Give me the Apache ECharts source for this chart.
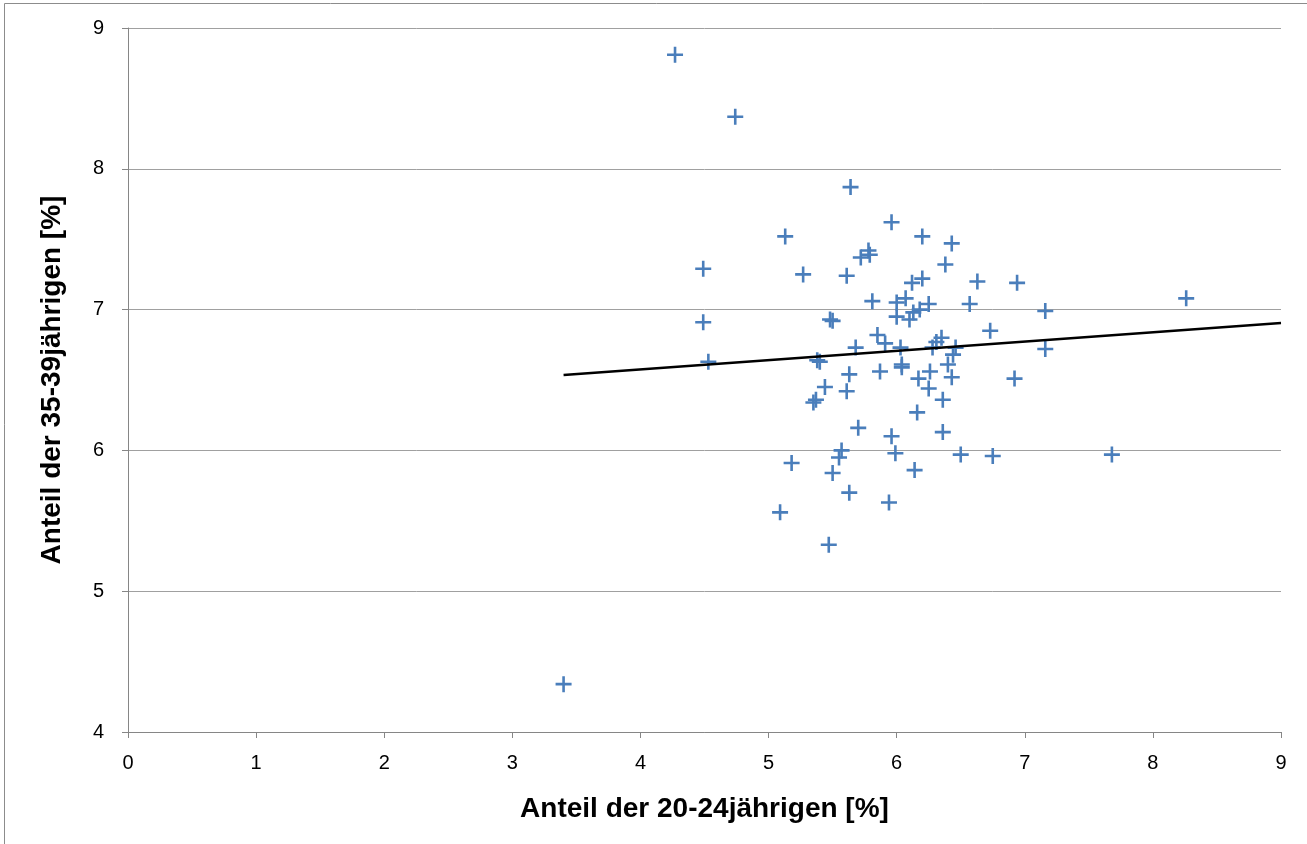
<!DOCTYPE html>
<html>
<head>
<meta charset="utf-8">
<script src="https://cdn.jsdelivr.net/npm/echarts@6/dist/echarts.min.js"></script>
<style>
html,body{margin:0;padding:0;background:#fff;}
#chart{width:1307px;height:844px;}
</style>
</head>
<body>
<div id="chart"></div>
<script>
// Anteil der 20-24jährigen [%]
var xValues = [4.27,4.74,5.64,5.96,5.13,6.20,6.43,5.78,5.79,5.72,4.49,6.38,5.27,5.61,6.20,6.12,6.63,6.94,
  5.81,6.00,6.07,6.25,6.57,8.26,7.16,6.18,6.13,6.00,6.10,5.48,5.50,4.49,5.85,6.73,6.35,5.91,6.31,
  5.68,6.03,6.28,6.46,7.16,6.44,5.38,5.40,4.53,6.04,6.04,6.40,5.63,5.87,6.26,6.17,6.43,6.92,
  5.44,5.61,6.25,5.35,5.37,6.36,6.16,5.70,6.36,5.96,5.57,5.99,6.50,6.75,7.68,5.55,5.18,6.14,
  5.50,5.63,5.94,5.09,5.47,3.40];
// Anteil der 35-39jährigen [%]
var yValues = [8.81,8.37,7.87,7.62,7.52,7.52,7.47,7.42,7.39,7.37,7.29,7.32,7.25,7.24,7.22,7.19,7.20,7.19,
  7.06,7.05,7.08,7.04,7.04,7.08,6.99,7.00,6.98,6.95,6.93,6.93,6.92,6.91,6.82,6.85,6.80,6.76,6.77,
  6.73,6.73,6.73,6.73,6.72,6.68,6.64,6.63,6.63,6.61,6.59,6.61,6.54,6.56,6.56,6.51,6.52,6.51,
  6.45,6.42,6.44,6.34,6.36,6.36,6.27,6.16,6.13,6.10,6.00,5.98,5.97,5.96,5.97,5.95,5.91,5.86,
  5.84,5.70,5.63,5.56,5.33,4.34];
// linear trend line end points (x, y)
var trendX = [3.40, 9.00];
var trendY = [6.535, 6.905];
var xTicks = [0,1,2,3,4,5,6,7,8,9];
var yTicks = [4,5,6,7,8,9];

var points = xValues.map(function(v,i){return [v, yValues[i]];});
var trend = trendX.map(function(v,i){return [v, trendY[i]];});

var plusPath = 'path://M6.7,0H9.3V6.7H16V9.3H9.3V16H6.7V9.3H0V6.7H6.7Z';
var font = '"Liberation Sans", Arial, sans-serif';

var chart = echarts.init(document.getElementById('chart'), null, {renderer:'canvas'});
chart.setOption({
  animation:false,
  backgroundColor:'#ffffff',
  graphic:[{
    type:'rect', silent:true, z:-1,
    shape:{x:4.5, y:3.5, width:1400, height:900},
    style:{fill:'none', stroke:'#8c8c8c', lineWidth:1}
  }],
  grid:{left:128, right:26, top:28, bottom:112, containLabel:false},
  xAxis:{
    type:'value', min:xTicks[0], max:xTicks[xTicks.length-1], interval:1,
    name:'Anteil der 20-24jährigen [%]', nameLocation:'middle', nameGap:63,
    nameTextStyle:{fontFamily:font, fontWeight:'bold', fontSize:28, color:'#000'},
    axisLine:{show:true, onZero:false, lineStyle:{color:'#868686', width:1}},
    axisTick:{show:true, inside:false, length:6, lineStyle:{color:'#868686'}},
    axisLabel:{fontFamily:font, fontSize:20, color:'#000', margin:21},
    splitLine:{show:false}
  },
  yAxis:{
    type:'value', min:yTicks[0], max:yTicks[yTicks.length-1], interval:1,
    name:'Anteil der 35-39jährigen [%]', nameLocation:'middle', nameGap:62, nameRotate:90,
    nameTextStyle:{fontFamily:font, fontWeight:'bold', fontSize:28, color:'#000'},
    axisLine:{show:true, onZero:false, lineStyle:{color:'#868686', width:1}},
    axisTick:{show:true, inside:false, length:6, lineStyle:{color:'#868686'}},
    axisLabel:{fontFamily:font, fontSize:20, color:'#000', margin:24},
    splitLine:{show:true, lineStyle:{color:'#a0a0a0', width:1}}
  },
  series:[
    {
      type:'scatter', data:points, symbol:plusPath, symbolSize:16,
      itemStyle:{color:'#4a7ebb', opacity:1}, z:3
    },
    {
      type:'line', data:trend, symbol:'none', smooth:false,
      lineStyle:{color:'#000000', width:2.5}, z:4
    }
  ]
});
</script>
</body>
</html>
